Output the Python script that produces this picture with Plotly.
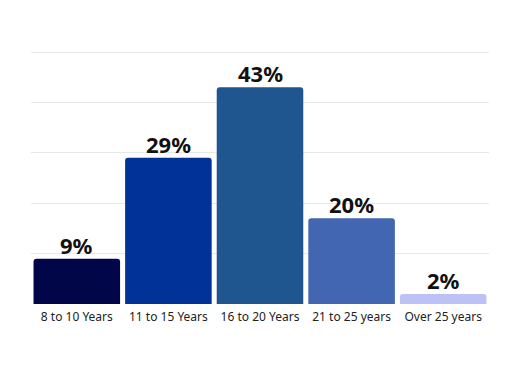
import plotly.graph_objects as go

categories = ["8 to 10 Years", "11 to 15 Years", "16 to 20 Years", "21 to 25 years", "Over 25 years"]
values = [9, 29, 43, 17, 2]
labels = ["9%", "29%", "43%", "20%", "2%"]
colors = ["#010649", "#003298", "#1f5690", "#4266b1", "#bcc2f6"]

fig = go.Figure(go.Bar(
    x=categories, y=values,
    marker=dict(color=colors, cornerradius=3, line=dict(width=0)),
    hoverinfo="skip",
))
for c, v, t in zip(categories, values, labels):
    fig.add_annotation(x=c, y=v, text=t, showarrow=False, yanchor="bottom", yshift=-3,
                       font=dict(size=22, color="#111111", family="Noto Sans", weight="bold"))
fig.update_layout(
    width=520, height=375,
    margin=dict(l=23, r=39, t=39, b=79),
    paper_bgcolor="white", plot_bgcolor="white",
    bargap=0.055, showlegend=False,
    font=dict(family="Noto Sans", color="#222222"),
    xaxis=dict(tickfont=dict(size=12, color="#222222"), showline=False, ticks="", ticklen=0,
               ticklabelstandoff=4),
    yaxis=dict(range=[0, 51], tickvals=[10, 20, 30, 40, 50], showticklabels=False,
               gridcolor="#e8e8e8", gridwidth=1, zeroline=False, showline=False),
)
fig.write_html("out.html")
